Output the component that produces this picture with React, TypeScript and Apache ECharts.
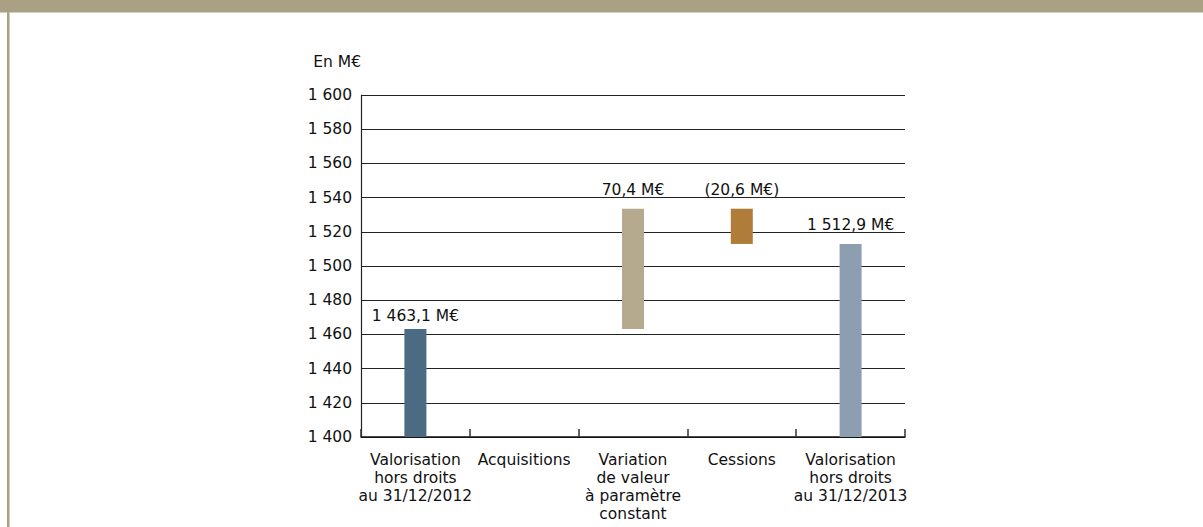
import React, { useEffect, useRef } from "react";
import * as echarts from "echarts";

const categories = [
  "Valorisation\nhors droits\nau 31/12/2012",
  "Acquisitions",
  "Variation\nde valeur\nà paramètre\nconstant",
  "Cessions",
  "Valorisation\nhors droits\nau 31/12/2013",
];
const openingValue = 1463.1;
const movements = [0, 70.4, -20.6]; // Acquisitions, Variation, Cessions
const closingValue = 1512.9;
const valueLabels = ["1 463,1 M€", "", "70,4 M€", "(20,6 M€)", "1 512,9 M€"];
const barColors = ["#4b6a84", "#b5aa8d", "#b07c39", "#8d9eb0"];
const yMin = 1400;
const yMax = 1600;
const yInterval = 20;

const FONT = "DejaVu Sans";

export default function App() {
  const ref = useRef<HTMLDivElement>(null);

  useEffect(() => {
    if (!ref.current) return;
    const chart = echarts.init(ref.current, undefined, { renderer: "svg" });

    // Build waterfall base (invisible) and visible heights
    const base: (number | string)[] = [];
    const height: any[] = [];
    base.push(yMin);
    height.push(openingValue - yMin);
    let running = openingValue;
    movements.forEach((m) => {
      if (m === 0) {
        base.push("-");
        height.push("-");
      } else {
        base.push(Math.min(running, running + m));
        height.push(Math.abs(m));
        running += m;
      }
    });
    base.push(yMin);
    height.push(closingValue - yMin);

    const colorIdx = [0, -1, 1, 2, 3];
    const visData = height.map((h, i) => {
      if (h === "-") return "-";
      return {
        value: h,
        itemStyle: { color: barColors[colorIdx[i]] },
        label: {
          show: true,
          position: "top",
          distance: i === 0 ? 5 : 11,
          formatter: valueLabels[i],
          color: "#111",
          fontFamily: FONT,
          fontSize: 15.5,
        },
      };
    });

    chart.setOption({
      animation: false,
      backgroundColor: "#ffffff",
      grid: { left: 361, right: 298, top: 95, bottom: 90, containLabel: false },
      graphic: [
        { type: "rect", shape: { x: 0, y: 0, width: 1203, height: 12 }, style: { fill: "#aaa084" } },
        { type: "rect", shape: { x: 0, y: 12, width: 1203, height: 1 }, style: { fill: "#d4cebb" } },
        { type: "rect", shape: { x: 7, y: 12, width: 2, height: 515 }, style: { fill: "#aaa084" } },
        { type: "rect", shape: { x: 9, y: 12, width: 1, height: 515 }, style: { fill: "#d4cebb" } },
      ],
      xAxis: {
        type: "category",
        data: categories,
        axisLine: { show: true, lineStyle: { color: "#111", width: 1.5 } },
        axisTick: { show: true, inside: true, length: 8, lineStyle: { color: "#333", width: 1.5 } },
        axisLabel: {
          interval: 0,
          color: "#111",
          fontFamily: FONT,
          fontSize: 15.5,
          lineHeight: 18,
          margin: 14,
          align: "center",
        },
        splitLine: { show: false },
      },
      yAxis: {
        type: "value",
        min: yMin,
        max: yMax,
        interval: yInterval,
        name: "En M€",
        nameLocation: "end",
        nameGap: 33,
        nameTextStyle: {
          color: "#111",
          fontFamily: FONT,
          fontSize: 15.5,
          align: "right",
          verticalAlign: "middle",
          padding: [0, 0, 0, 0],
        },
        axisLine: { show: true, lineStyle: { color: "#222", width: 1.2 } },
        axisTick: { show: false },
        axisLabel: {
          color: "#111",
          fontFamily: FONT,
          fontSize: 15.5,
          margin: 9,
          formatter: (v: number) =>
            Math.floor(v / 1000) + " " + String(Math.round(v % 1000)).padStart(3, "0"),
        },
        splitLine: { show: true, lineStyle: { color: "#222", width: 1 } },
      },
      series: [
        {
          type: "bar",
          stack: "w",
          data: base,
          barWidth: 22,
          itemStyle: { color: "transparent" },
          silent: true,
        },
        {
          type: "bar",
          stack: "w",
          data: visData,
          barWidth: 22,
        },
      ],
    });

    return () => chart.dispose();
  }, []);

  return (
    <div
      ref={ref}
      style={{ position: "absolute", left: 0, top: 0, width: 1203, height: 527 }}
    />
  );
}
